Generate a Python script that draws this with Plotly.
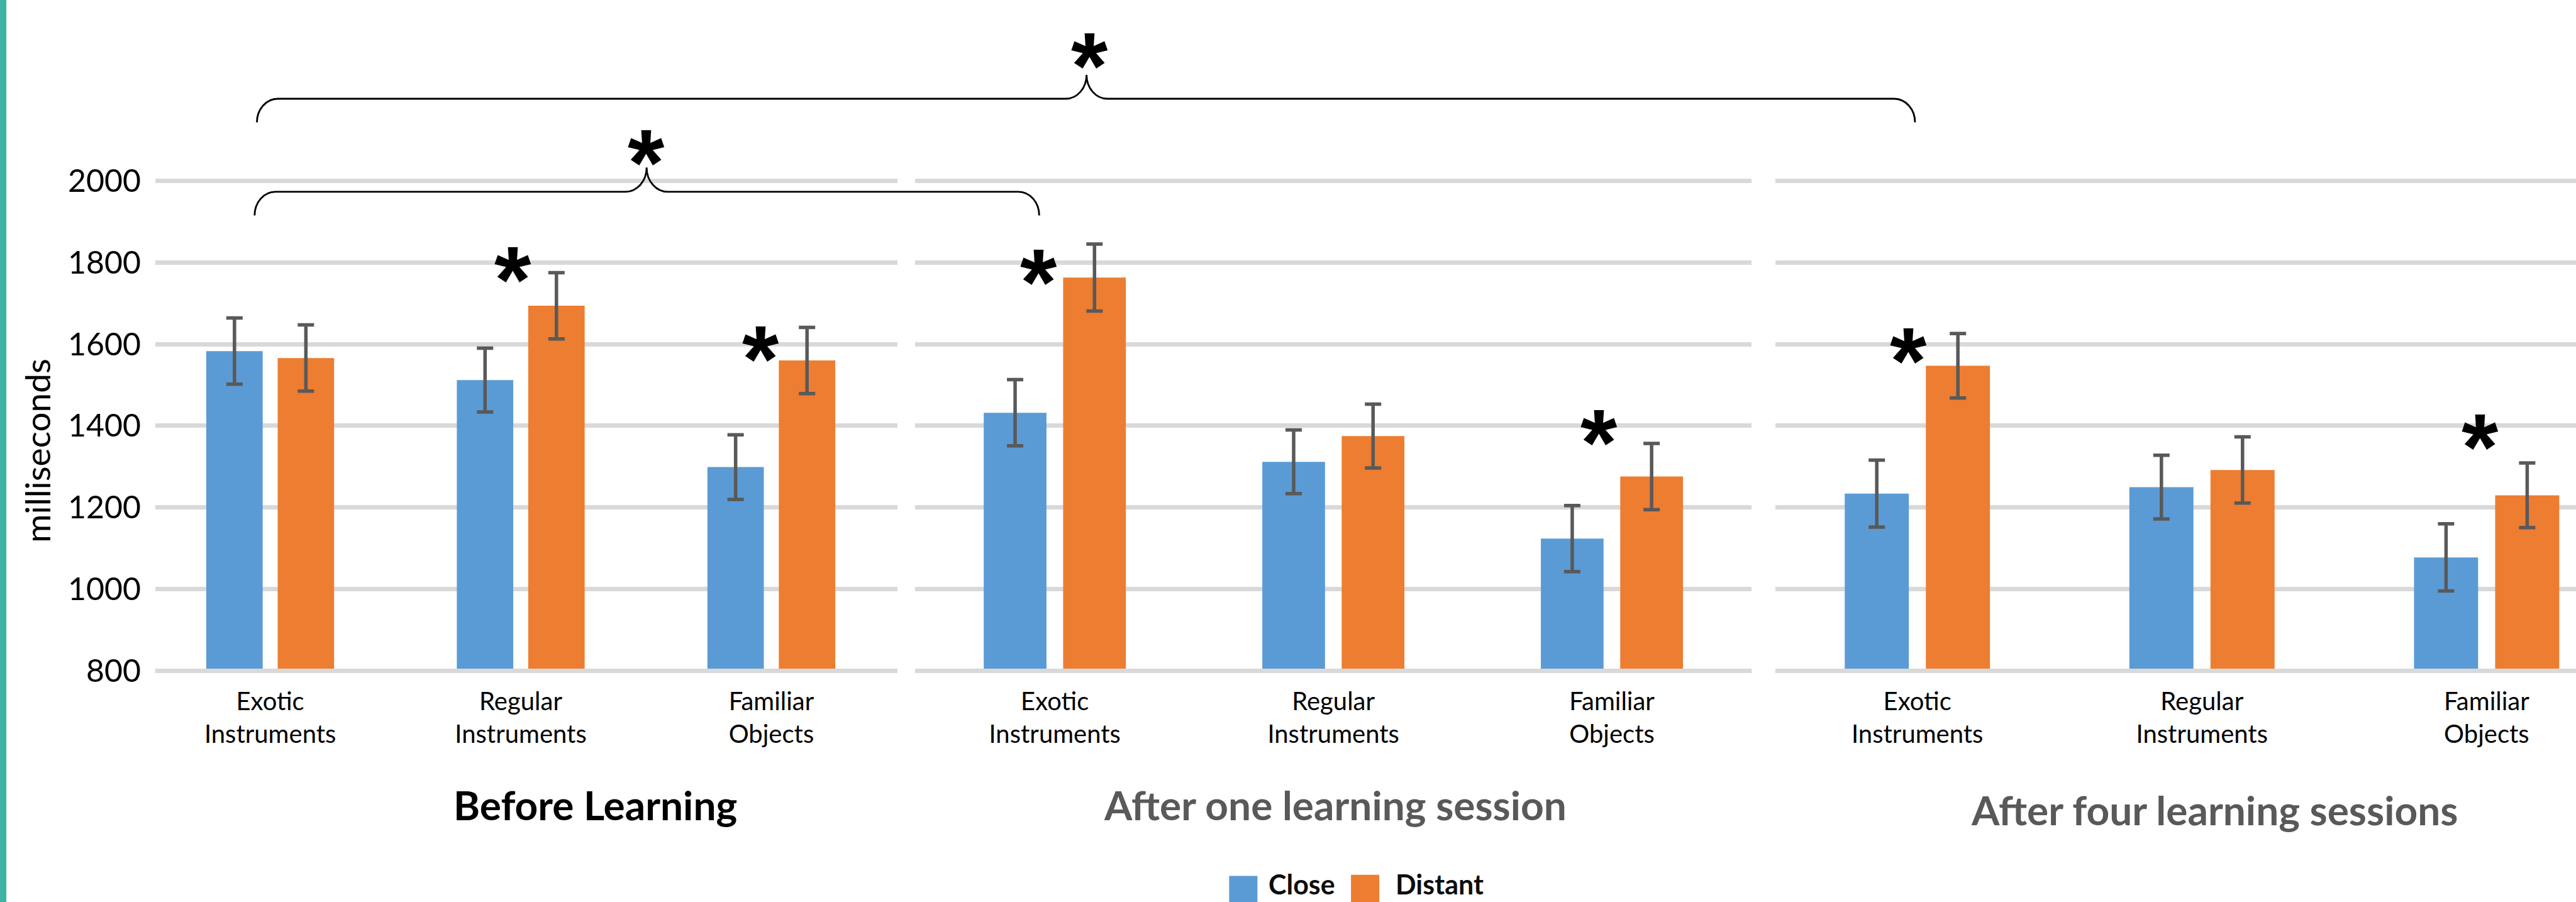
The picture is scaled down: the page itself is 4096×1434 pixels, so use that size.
import plotly.graph_objects as go

# ---------------- data ----------------
categories = ["Exotic<br>Instruments", "Regular<br>Instruments", "Familiar<br>Objects"]
sessions = ["Before Learning", "After one learning session", "After four learning sessions"]
series_names = ["Close", "Distant"]

before_close = [1583, 1512, 1299]
before_close_err = [81, 78, 79]
before_distant = [1566, 1694, 1560]
before_distant_err = [81, 81, 81]

one_close = [1432, 1312, 1124]
one_close_err = [81, 78, 81]
one_distant = [1763, 1375, 1276]
one_distant_err = [82, 78, 81]

four_close = [1234, 1250, 1078]
four_close_err = [82, 78, 82]
four_distant = [1547, 1292, 1230]
four_distant_err = [79, 81, 79]

y_ticks = [800, 1000, 1200, 1400, 1600, 1800, 2000]

# ---------------- canvas helpers ----------------
W, H = 4096, 1434
S = 0.918  # design grid -> output pixels


def fx(x):
    return x * S / W


def fy(y):
    return 1 - y * S / H


def baseline_y(b, fs):
    # paper y for an annotation (yanchor middle) whose text baseline sits at design y = b
    return 1 - (b * S - 0.387 * fs) / H


BLUE = "#5b9bd5"
ORANGE = "#ed7d31"
ERR = "#595959"
GRID = "#d9d9d9"
TEAL = "#3cb3a3"
FONT = "Lato, 'Open Sans', sans-serif"
STAR_FONT = "'Liberation Sans', Arial, sans-serif"

panels = [
    (before_close, before_close_err, before_distant, before_distant_err),
    (one_close, one_close_err, one_distant, one_distant_err),
    (four_close, four_close_err, four_distant, four_distant_err),
]

# panel extents on the design grid and visible category span
x_domains = [(fx(269), fx(1554)), (fx(1585), fx(3034)), (fx(3075), 1.0)]
x_ranges = [(-0.4585, 2.5023), (-0.5016, 2.5016), (-0.499, 2.314)]
y_domain = (fy(1165.5), fy(305.9))
y_range = (795, 2010)

fig = go.Figure()

for i, (c, ce, d, de) in enumerate(panels):
    sfx = "" if i == 0 else str(i + 1)
    for vals, errs, color, name in ((c, ce, BLUE, series_names[0]), (d, de, ORANGE, series_names[1])):
        fig.add_trace(go.Bar(
            x=categories, y=vals, name=name, showlegend=False,
            marker=dict(color=color, line=dict(width=0)),
            error_y=dict(type="data", array=errs, visible=True, color=ERR, thickness=5.5, width=13),
            xaxis="x" + sfx, yaxis="y" + sfx,
        ))

layout_axes = {}
for i in range(3):
    sfx = "" if i == 0 else str(i + 1)
    layout_axes["xaxis" + sfx] = dict(
        domain=list(x_domains[i]), range=list(x_ranges[i]), type="category", automargin=False,
        anchor="y" + sfx, showgrid=False, zeroline=False, showline=False, ticks="",
        tickfont=dict(family=FONT, size=40, color="#000000"), ticklabelstandoff=18,
    )
    layout_axes["yaxis" + sfx] = dict(
        domain=list(y_domain), range=list(y_range), anchor="x" + sfx, automargin=False,
        tickvals=y_ticks, showgrid=True, gridcolor=GRID, gridwidth=7.3,
        zeroline=False, showline=False, ticks="", showticklabels=(i == 0),
        tickfont=dict(family=FONT, size=50, color="#000000"), ticklabelstandoff=22,
    )

shapes = []
# teal stripe at the left edge
shapes.append(dict(type="rect", xref="paper", yref="paper", x0=0, x1=fx(11), y0=0, y1=1,
                   fillcolor=TEAL, line=dict(width=0), layer="below"))
# category axis baseline drawn over the bar feet
for i in range(3):
    sfx = "" if i == 0 else str(i + 1)
    shapes.append(dict(type="line", xref="x" + sfx + " domain", yref="y" + sfx,
                       x0=0, x1=1, y0=800, y1=800, line=dict(color=GRID, width=7.3), layer="above"))


def brace_path(xl, xc, xr, y_end, y_line, y_tip, r=36, cw=36):
    k = 0.5523
    ry = y_end - y_line
    ty = y_line - y_tip
    pts = [
        ("M", [(xl, y_end)]),
        ("C", [(xl, y_end - k * ry), (xl + r - k * r, y_line), (xl + r, y_line)]),
        ("L", [(xc - cw, y_line)]),
        ("C", [(xc - cw + k * cw, y_line), (xc, y_tip + k * ty), (xc, y_tip)]),
        ("C", [(xc, y_tip + k * ty), (xc + cw - k * cw, y_line), (xc + cw, y_line)]),
        ("L", [(xr - r, y_line)]),
        ("C", [(xr - r + k * r, y_line), (xr, y_end - k * ry), (xr, y_end)]),
    ]
    out = []
    for cmd, plist in pts:
        out.append(cmd + " ".join(f"{fx(px):.6f},{fy(py):.6f}" for px, py in plist))
    return " ".join(out)


shapes.append(dict(type="path", xref="paper", yref="paper",
                   path=brace_path(441, 1120, 1800, 373, 332, 290),
                   line=dict(color="#000000", width=2.8), layer="above"))
shapes.append(dict(type="path", xref="paper", yref="paper",
                   path=brace_path(445, 1882, 3317, 212, 171, 129.5),
                   line=dict(color="#000000", width=2.8), layer="above"))

# legend swatches
shapes.append(dict(type="rect", xref="paper", yref="paper", x0=fx(2129), x1=fx(2178), y0=0, y1=fy(1517),
                   fillcolor=BLUE, line=dict(width=0)))
shapes.append(dict(type="rect", xref="paper", yref="paper", x0=fx(2340), x1=fx(2389), y0=0, y1=fy(1515),
                   fillcolor=ORANGE, line=dict(width=0)))

annotations = []
# significance stars (design-grid centres)
STAR_FS = 150
star_centres = [(1887, 82), (1119, 249), (888, 452), (1318, 589), (1799, 456),
                (2770, 734), (3306, 593), (4296, 742)]
for sx, sy in star_centres:
    annotations.append(dict(text="<b>*</b>", xref="paper", yref="paper", x=fx(sx), y=fy(sy),
                            xanchor="center", yanchor="middle", yshift=-0.2 * STAR_FS, showarrow=False,
                            font=dict(family=STAR_FONT, size=STAR_FS, color="#000000")))

# session titles
TITLE_FS = 64
title_pos = [(1031, 1421, "#000000"), (2313, 1421, "#595959"), (3835, 1430, "#595959")]
for (tx, tb, tc), label in zip(title_pos, sessions):
    annotations.append(dict(text=f"<b>{label}</b>", xref="paper", yref="paper", x=fx(tx),
                            y=baseline_y(tb, TITLE_FS), xanchor="center", yanchor="middle",
                            showarrow=False, font=dict(family=FONT, size=TITLE_FS, color=tc)))

# y-axis title
annotations.append(dict(text="milliseconds", xref="paper", yref="paper", x=fx(64), y=fy(780),
                        textangle=-90, xanchor="center", yanchor="middle", showarrow=False,
                        font=dict(family=FONT, size=55, color="#000000")))

# legend labels
LEG_FS = 43
for lx, label in ((2195, series_names[0]), (2415, series_names[1])):
    annotations.append(dict(text=f"<b>{label}</b>", xref="paper", yref="paper", x=fx(lx),
                            y=baseline_y(1549, LEG_FS), xanchor="left", yanchor="middle",
                            showarrow=False, font=dict(family=FONT, size=LEG_FS, color="#0d0d0d")))

fig.update_layout(
    template="none",
    width=W, height=H, autosize=False,
    margin=dict(l=0, r=0, t=0, b=0, pad=0),
    paper_bgcolor="#ffffff", plot_bgcolor="#ffffff",
    barmode="group", bargap=0.43, bargroupgap=0.21,
    showlegend=False,
    shapes=shapes, annotations=annotations,
    **layout_axes,
)

fig.write_html("out.html")
